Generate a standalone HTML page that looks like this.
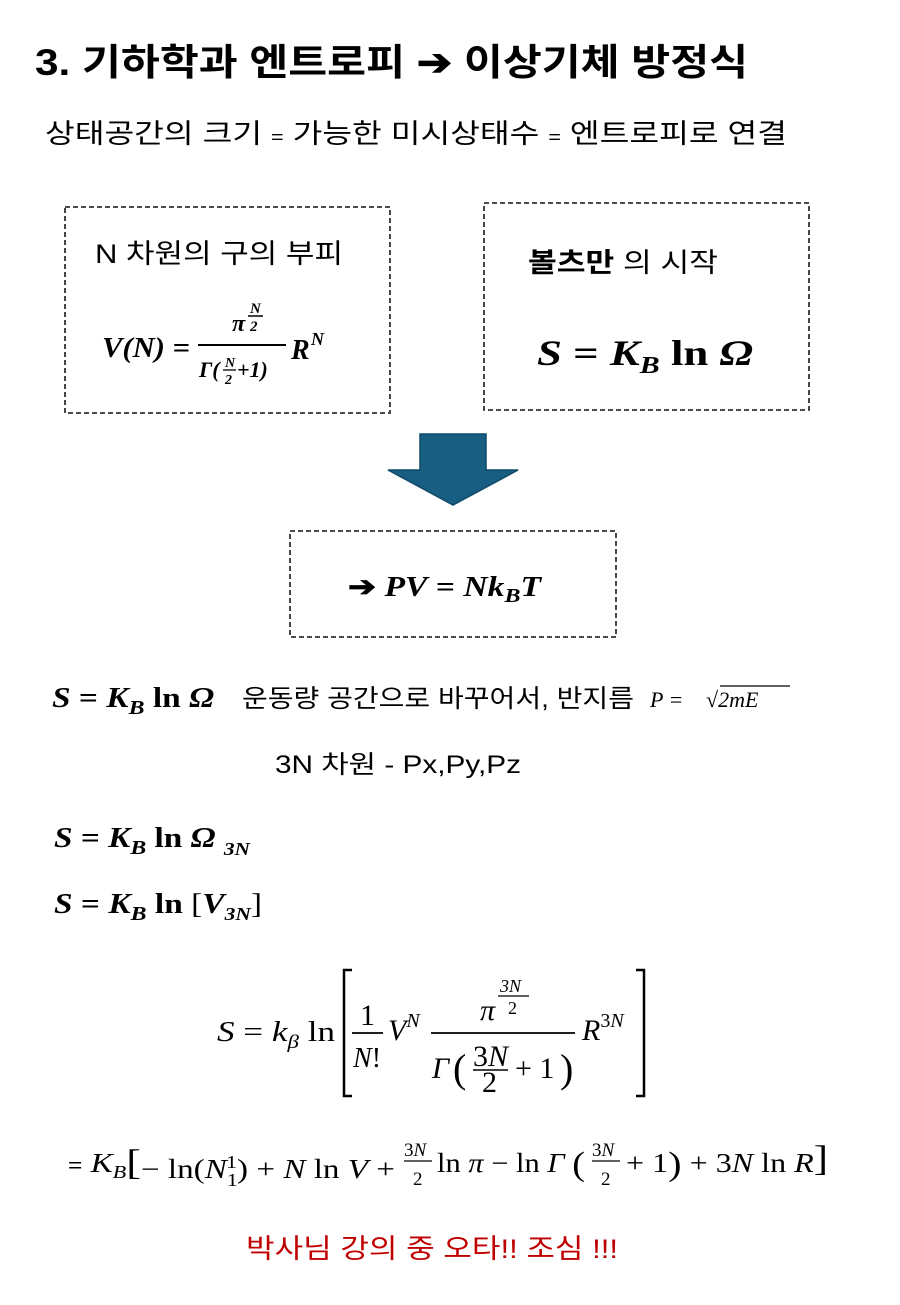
<!DOCTYPE html>
<html><head><meta charset="utf-8"><style>
body{margin:0;background:#fff}
svg text{font-family:"Liberation Serif","Noto Serif CJK SC",serif}
.k{font-family:"Liberation Sans","Noto Sans CJK KR",sans-serif}
.b{font-weight:bold;font-style:italic}
.i{font-style:italic}
</style></head><body>
<svg width="900" height="1300" xmlns="http://www.w3.org/2000/svg">
<text class="k" x="35" y="75" font-size="37" font-weight="bold" textLength="713" lengthAdjust="spacingAndGlyphs">3. 기하학과 엔트로피 ➔ 이상기체 방정식</text>
<text class="k" x="45" y="143" font-size="27" textLength="742" lengthAdjust="spacingAndGlyphs">상태공간의 크기 <tspan font-size="18">=</tspan>  가능한 미시상태수 <tspan font-size="18">=</tspan>  엔트로피로 연결</text>

<g fill="none" stroke="#333" stroke-width="1.8" stroke-dasharray="5,3">
<rect x="65" y="207" width="325" height="206"/>
<rect x="484" y="203" width="325" height="207"/>
<rect x="290" y="531" width="326" height="106"/>
</g>
<text class="k" x="95" y="263" font-size="27" textLength="248" lengthAdjust="spacingAndGlyphs">N 차원의 구의 부피</text>
<text class="b" x="102" y="357" font-size="28" textLength="88" lengthAdjust="spacingAndGlyphs">V(N) =</text>
<text class="b" x="232" y="331" font-size="24">π</text>
<text class="b" x="250" y="313" font-size="15">N</text>
<line x1="248" y1="316" x2="263" y2="316" stroke="#000" stroke-width="1.5"/>
<text class="b" x="250" y="331" font-size="15">2</text>
<line x1="198" y1="345" x2="286" y2="345" stroke="#000" stroke-width="2"/>
<text class="b" x="199" y="377" font-size="22">Γ(</text>
<text class="b" x="225" y="367" font-size="14">N</text>
<line x1="223" y1="370" x2="236" y2="370" stroke="#000" stroke-width="1.3"/>
<text class="b" x="225" y="384" font-size="14">2</text>
<text class="b" x="237" y="377" font-size="22">+1)</text>
<text class="b" x="291" y="359" font-size="28">R</text>
<text class="b" x="311" y="345" font-size="18">N</text>

<text class="k" x="528" y="272" font-size="27" textLength="190" lengthAdjust="spacingAndGlyphs"><tspan font-weight="bold">볼츠만</tspan> 의 시작</text>
<text x="537" y="365" font-size="36" font-weight="bold" textLength="216" lengthAdjust="spacingAndGlyphs"><tspan class="i">S</tspan> = <tspan class="i">K<tspan font-size="24" dy="8">B</tspan></tspan><tspan dy="-8"> ln  </tspan><tspan class="i">Ω</tspan></text>

<path d="M420 434 H486 V470 H518 L453 505 L388 470 H420 Z" fill="#185e82" stroke="#0f4a68" stroke-width="1.5"/>

<text x="348" y="596" font-size="28" font-weight="bold" textLength="193" lengthAdjust="spacingAndGlyphs"><tspan class="k">➔</tspan> <tspan class="i">PV</tspan> = <tspan class="i">Nk<tspan font-size="20" dy="6">B</tspan><tspan dy="-6">T</tspan></tspan></text>

<text x="52" y="707" font-size="28" font-weight="bold" textLength="162" lengthAdjust="spacingAndGlyphs"><tspan class="i">S</tspan> = <tspan class="i">K<tspan font-size="20" dy="7">B</tspan></tspan><tspan dy="-7"> ln  </tspan><tspan class="i">Ω</tspan></text>
<text class="k" x="242" y="707" font-size="25" textLength="392" lengthAdjust="spacingAndGlyphs">운동량 공간으로 바꾸어서, 반지름</text>
<text class="i" x="650" y="707" font-size="22">P =</text>
<text x="706" y="707" font-size="22">√<tspan class="i">2mE</tspan></text>
<line x1="720" y1="686" x2="790" y2="686" stroke="#000" stroke-width="1.2"/>
<text class="k" x="275" y="773" font-size="25" textLength="246" lengthAdjust="spacingAndGlyphs">3N 차원  -  Px,Py,Pz</text>

<text x="54" y="847" font-size="28" font-weight="bold" textLength="196" lengthAdjust="spacingAndGlyphs"><tspan class="i">S</tspan> = <tspan class="i">K<tspan font-size="20" dy="7">B</tspan></tspan><tspan dy="-7"> ln  </tspan><tspan class="i">Ω  <tspan font-size="18" dy="8">3N</tspan></tspan></text>
<text x="54" y="913" font-size="28" font-weight="bold" textLength="208" lengthAdjust="spacingAndGlyphs"><tspan class="i">S</tspan> = <tspan class="i">K<tspan font-size="20" dy="7">B</tspan></tspan><tspan dy="-7"> ln  </tspan><tspan font-weight="normal">[</tspan><tspan class="i">V<tspan font-size="18" dy="7">3N</tspan></tspan><tspan font-weight="normal" dy="-7">]</tspan></text>

<text x="217" y="1041" font-size="29" textLength="118" lengthAdjust="spacingAndGlyphs"><tspan class="i">S</tspan> = <tspan class="i">k<tspan font-size="19" dy="7">β</tspan></tspan><tspan dy="-7"> ln</tspan></text>
<path d="M352 970 H344 V1096 H352" fill="none" stroke="#000" stroke-width="2.5"/>
<path d="M636 970 H644 V1096 H636" fill="none" stroke="#000" stroke-width="2.5"/>
<text x="360" y="1025" font-size="30">1</text>
<line x1="352" y1="1033" x2="383" y2="1033" stroke="#000" stroke-width="1.8"/>
<text class="i" x="353" y="1067" font-size="28">N<tspan font-style="normal">!</tspan></text>
<text class="i" x="388" y="1040" font-size="30">V<tspan font-size="20" dy="-13">N</tspan></text>
<text class="i" x="480" y="1020" font-size="30">π</text>
<text class="i" x="500" y="992" font-size="18">3N</text>
<line x1="498" y1="996" x2="529" y2="996" stroke="#000" stroke-width="1.2"/>
<text x="508" y="1014" font-size="18">2</text>
<line x1="431" y1="1033" x2="575" y2="1033" stroke="#000" stroke-width="1.8"/>
<text class="i" x="432" y="1078" font-size="30">Γ</text>
<text x="453" y="1082" font-size="40">(</text>
<text x="473" y="1066" font-size="30">3<tspan class="i">N</tspan></text>
<line x1="473" y1="1070" x2="508" y2="1070" stroke="#000" stroke-width="1.5"/>
<text x="482" y="1092" font-size="30">2</text>
<text x="515" y="1078" font-size="30">+ 1</text>
<text x="560" y="1082" font-size="40">)</text>
<text class="i" x="582" y="1040" font-size="30">R<tspan font-style="normal" font-size="20" dy="-13">3<tspan font-style="italic">N</tspan></tspan></text>

<text x="68" y="1172" font-size="27" textLength="327" lengthAdjust="spacingAndGlyphs"><tspan class="k" font-size="20">=</tspan> <tspan class="i">K<tspan font-size="18" dy="6">B</tspan></tspan><tspan font-size="36" dy="-4">[</tspan><tspan dy="4">− ln(</tspan><tspan class="i">N</tspan><tspan font-size="18" dy="8">1</tspan><tspan font-size="18" dx="-9" dy="-18">1</tspan><tspan dy="10">) + </tspan><tspan class="i">N</tspan> ln <tspan class="i">V</tspan> +</text>
<text x="404" y="1156" font-size="19">3<tspan class="i">N</tspan></text>
<line x1="404" y1="1161" x2="432" y2="1161" stroke="#000" stroke-width="1.2"/>
<text x="413" y="1185" font-size="19">2</text>
<text x="437" y="1172" font-size="27" textLength="148" lengthAdjust="spacingAndGlyphs">ln <tspan class="i">π</tspan> − ln <tspan class="i">Γ</tspan> <tspan font-size="34" dy="3">(</tspan></text>
<text x="592" y="1156" font-size="19">3<tspan class="i">N</tspan></text>
<line x1="592" y1="1161" x2="620" y2="1161" stroke="#000" stroke-width="1.2"/>
<text x="601" y="1185" font-size="19">2</text>
<text x="626" y="1172" font-size="27" textLength="202" lengthAdjust="spacingAndGlyphs">+ 1<tspan font-size="34" dy="3">)</tspan><tspan dy="-3"> + 3</tspan><tspan class="i">N</tspan> ln <tspan class="i">R</tspan><tspan font-size="36" dy="-2">]</tspan></text>

<text class="k" x="246" y="1258" font-size="27" fill="#c00000" textLength="372" lengthAdjust="spacingAndGlyphs">박사님 강의 중 오타!! 조심 !!!</text>
</svg>
</body></html>
